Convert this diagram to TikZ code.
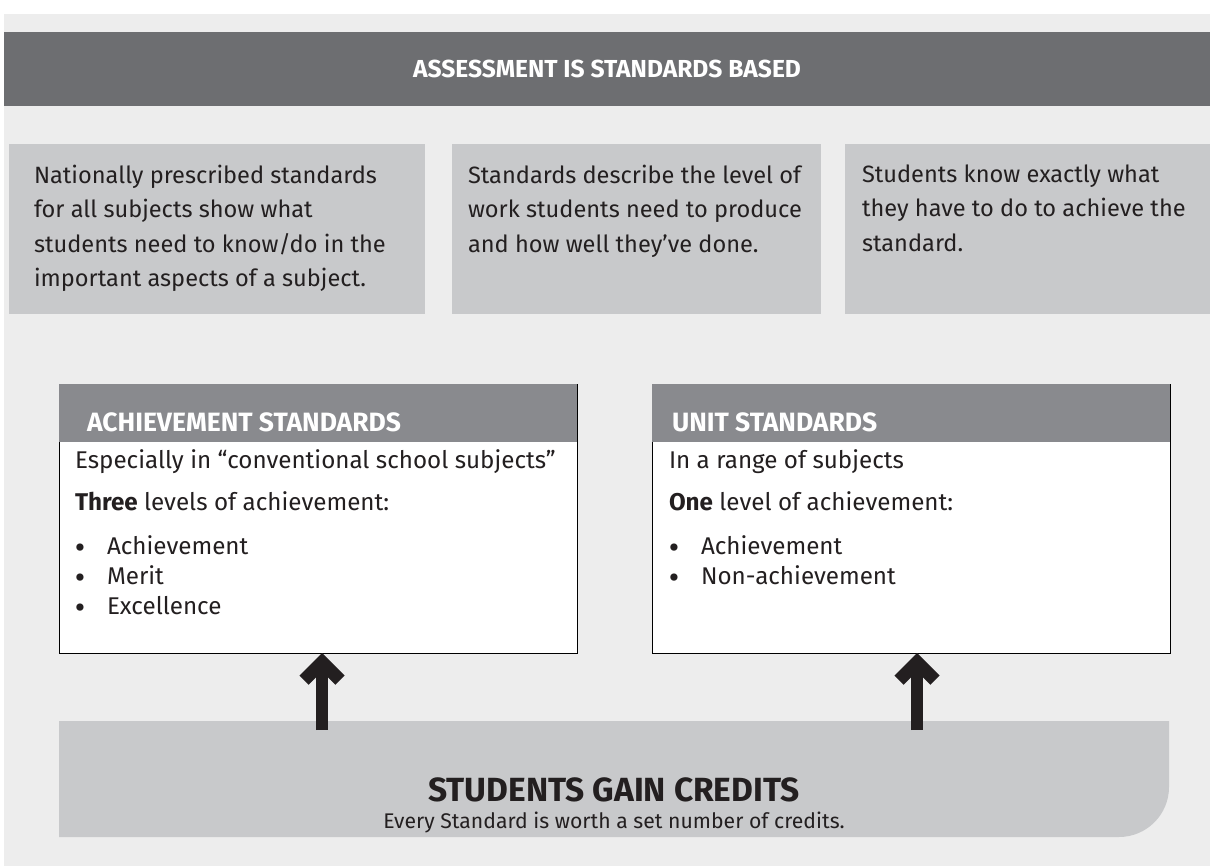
\documentclass[tikz,border=0pt]{standalone}
\usepackage{fontspec}
\setmainfont{Fira Sans}
\usetikzlibrary{arrows.meta,positioning}
\definecolor{bgGrey}{HTML}{EDEDED}
\definecolor{barDark}{HTML}{6D6E71}
\definecolor{barMid}{HTML}{898A8E}
\definecolor{boxLight}{HTML}{C8C9CB}
\definecolor{inkDark}{HTML}{231F20}
\begin{document}
\begin{tikzpicture}[x=1pt, y=-1pt,
		every node/.style={inner sep=0pt, outer sep=0pt, text=inkDark},
		topbox/.style={fill=boxLight, minimum height=170pt, anchor=north west},% the three grey boxes
		toptext/.style={anchor=north west, align=left,
			font=\fontsize{23.6}{34.3}\selectfont},
		stdbox/.style={draw=black, line width=0.8pt, fill=white,
			minimum width=518pt, minimum height=269pt, anchor=north west},
		stdhead/.style={fill=barMid, minimum width=518pt, minimum height=58pt,
			anchor=north west},
		headtext/.style={anchor=base west, text=white,
			font=\fontsize{26.5}{30}\selectfont\bfseries},
		body/.style={anchor=base west, font=\fontsize{24.2}{28}\selectfont},
		dot/.style={anchor=center, font=\fontsize{32}{32}\selectfont},
		uparrow/.style={draw=inkDark, line width=12pt,
			-{Straight Barb[length=18pt, width=36pt, line width=13pt]}},
		]
		\useasboundingbox (0,0) rectangle (1210,866);
		\fill[bgGrey] (4,14) rectangle (1210,866);
		% title bar
		\node[fill=barDark, minimum width=1206pt, minimum height=74pt, anchor=north west,
			text=white, font=\fontsize{24.6}{28}\selectfont\bfseries] (title) at (4,32)
			{ASSESSMENT IS STANDARDS BASED};
		% top row
		\node[topbox, minimum width=416pt] (box1) at (9,144) {};
		\node[topbox, minimum width=369pt] (box2) at (452,144) {};
		\node[topbox, minimum width=365pt] (box3) at (845,144) {};
		\node[toptext] (t1) at ([shift={(25,21)}]box1.north west)
			{Nationally prescribed standards\\for all subjects show what\\students need to know/do in the\\important aspects of a subject.};
		\node[toptext] (t2) at ([shift={(16,21)}]box2.north west)
			{Standards describe the level of\\work students need to produce\\and how well they’ve done.};
		\node[toptext] (t3) at ([shift={(17,21)}]box3.north west)
			{Students know exactly what\\they have to do to achieve the\\standard.};
		% the two kinds of standard
		\node[stdbox] (ach) at (59,384) {};
		\node[stdhead] (achhead) at (59,384) {};
		\node[headtext] (achtitle) at (87,431) {ACHIEVEMENT STANDARDS};
		\node[body] (ach1) at (75,468) {Especially in “conventional school subjects”};
		\node[body] (ach2) at (75,510) {\textbf{Three} levels of achievement:};
		\foreach \txt [count=\i] in {Achievement,Merit,Excellence}{
			\node[dot] (achdot\i) at (80,{521+30*\i}) {•};
			\node[body] (achitem\i) at (107,{524+30*\i}) {\txt};
		}
		\node[stdbox] (unit) at (652,384) {};
		\node[stdhead] (unithead) at (652,384) {};
		\node[headtext] (unittitle) at (672,431) {UNIT STANDARDS};
		\node[body] (unit1) at (669,468) {In a range of subjects};
		\node[body] (unit2) at (669,510) {\textbf{One} level of achievement:};
		\foreach \txt [count=\i] in {Achievement,Non-achievement}{
			\node[dot] (unitdot\i) at (674,{521+30*\i}) {•};
			\node[body] (unititem\i) at (701,{524+30*\i}) {\txt};
		}
		% credits bar, round corner bottom right only
		\fill[boxLight] (59,721) -- (1169,721) -- (1169,787)
			.. controls (1169,814.6) and (1146.6,837) .. (1119,837) -- (59,837) -- cycle;
		\node[font=\fontsize{33.5}{36}\selectfont\bfseries] (gain) at (614,790) {STUDENTS GAIN CREDITS};
		\node[anchor=base, font=\fontsize{21.2}{24}\selectfont] (worth) at (614,828)
			{Every Standard is worth a set number of credits.};
		\coordinate (achfoot) at (322,730);
		\coordinate (unitfoot) at (917,730);
		\draw[uparrow] (achfoot) -- (achfoot |- ach.south);
		\draw[uparrow] (unitfoot) -- (unitfoot |- unit.south);
	\end{tikzpicture}
\end{document}
